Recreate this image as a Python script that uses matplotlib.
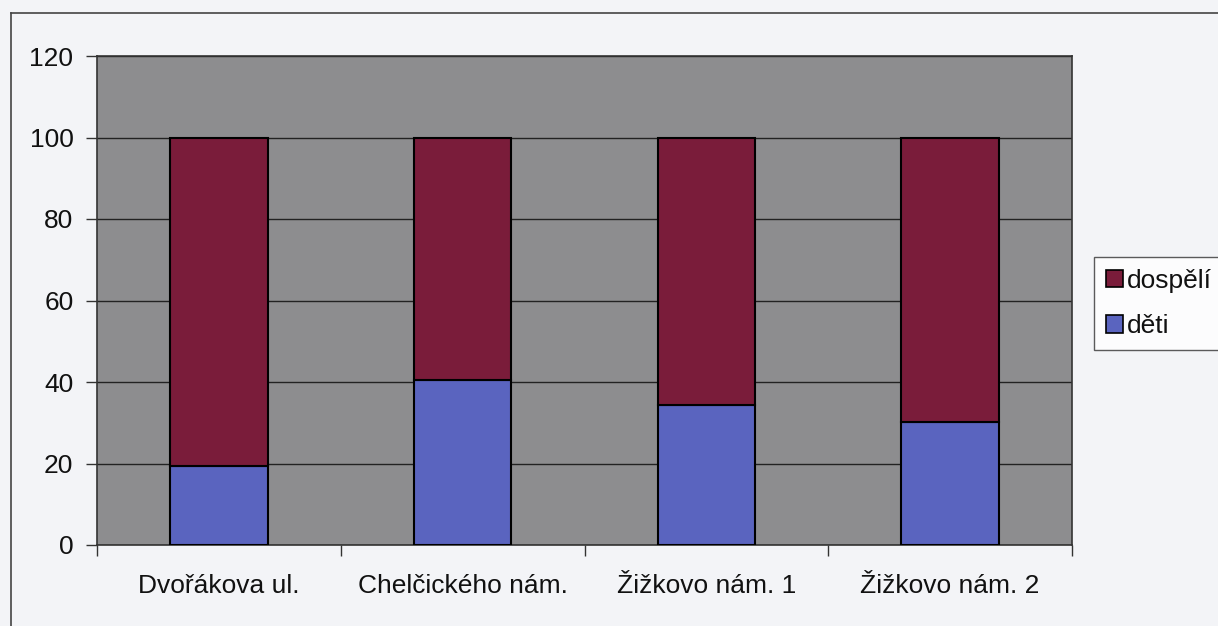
import matplotlib
matplotlib.use("Agg")
import matplotlib.pyplot as plt
from matplotlib.lines import Line2D
from matplotlib.patches import Patch
import numpy as np

categories = ["Dvořákova ul.", "Chelčického nám.", "Žižkovo nám. 1", "Žižkovo nám. 2"]
deti = [19.5, 40.4, 34.3, 30.3]
dospeli = [100 - v for v in deti]
series_labels = ["dospělí", "děti"]

plt.rcParams['font.family'] = ['Liberation Sans', 'DejaVu Sans']

W, H = 1218, 626
fig = plt.figure(figsize=(W / 100, H / 100), dpi=100, facecolor="#f3f4f7")
ax = fig.add_axes([97 / W, 1 - 545 / H, (1072 - 97) / W, (545 - 56) / H])
ax.set_facecolor("#8d8d8f")

x = np.arange(len(categories))
bw = 0.40
c_blue = "#5a64bf"
c_red = "#7a1c3a"
ax.bar(x, deti, bw, color=c_blue, edgecolor="black", linewidth=1.5, zorder=3)
ax.bar(x, dospeli, bw, bottom=deti, color=c_red, edgecolor="black", linewidth=1.5, zorder=3)

fs = 19
ax.set_xlim(-0.5, len(categories) - 0.5)
ax.set_ylim(0, 120)
ax.set_yticks(range(0, 121, 20))
ax.set_yticklabels([str(v) for v in range(0, 121, 20)], fontsize=fs, color="#111111")
ax.yaxis.grid(True, color="#222222", linewidth=1.0, zorder=1)
ax.set_axisbelow(True)

ax.set_xticks(np.arange(-0.5, len(categories), 1.0))
ax.set_xticklabels([])
ax.set_xticks(x, minor=True)
ax.set_xticklabels(categories, minor=True, fontsize=fs, color="#111111")
ax.tick_params(axis="x", which="minor", length=0, pad=21)
ax.tick_params(axis="x", which="major", length=8, width=1, color="#333333", direction="out")
ax.tick_params(axis="y", length=8, width=1, color="#333333", direction="out", pad=9)

for s in ax.spines.values():
    s.set_color("#333333")
    s.set_linewidth(1.2)

handles = [Patch(facecolor=c_red, edgecolor="black", linewidth=1.2),
           Patch(facecolor=c_blue, edgecolor="black", linewidth=1.2)]
leg = fig.legend(handles, series_labels, loc="upper left",
                 bbox_to_anchor=(1094 / W, 1 - 257 / H), fontsize=fs,
                 frameon=True, fancybox=False, handlelength=0.65, handleheight=0.65,
                 handletextpad=0.15, borderpad=0.45, labelspacing=0.8, borderaxespad=0)
leg.get_frame().set_edgecolor("#333333")
leg.get_frame().set_linewidth(1.0)
leg.get_frame().set_facecolor("#ffffff")
for t in leg.get_texts():
    t.set_color("#111111")

# outer chart frame
fig.add_artist(Line2D([11 / W, 1.0], [1 - 13 / H, 1 - 13 / H], color="#444444", linewidth=1.2))
fig.add_artist(Line2D([11 / W, 11 / W], [0.0, 1 - 13 / H], color="#444444", linewidth=1.2))

fig.savefig("out.png", dpi=100, facecolor=fig.get_facecolor())
